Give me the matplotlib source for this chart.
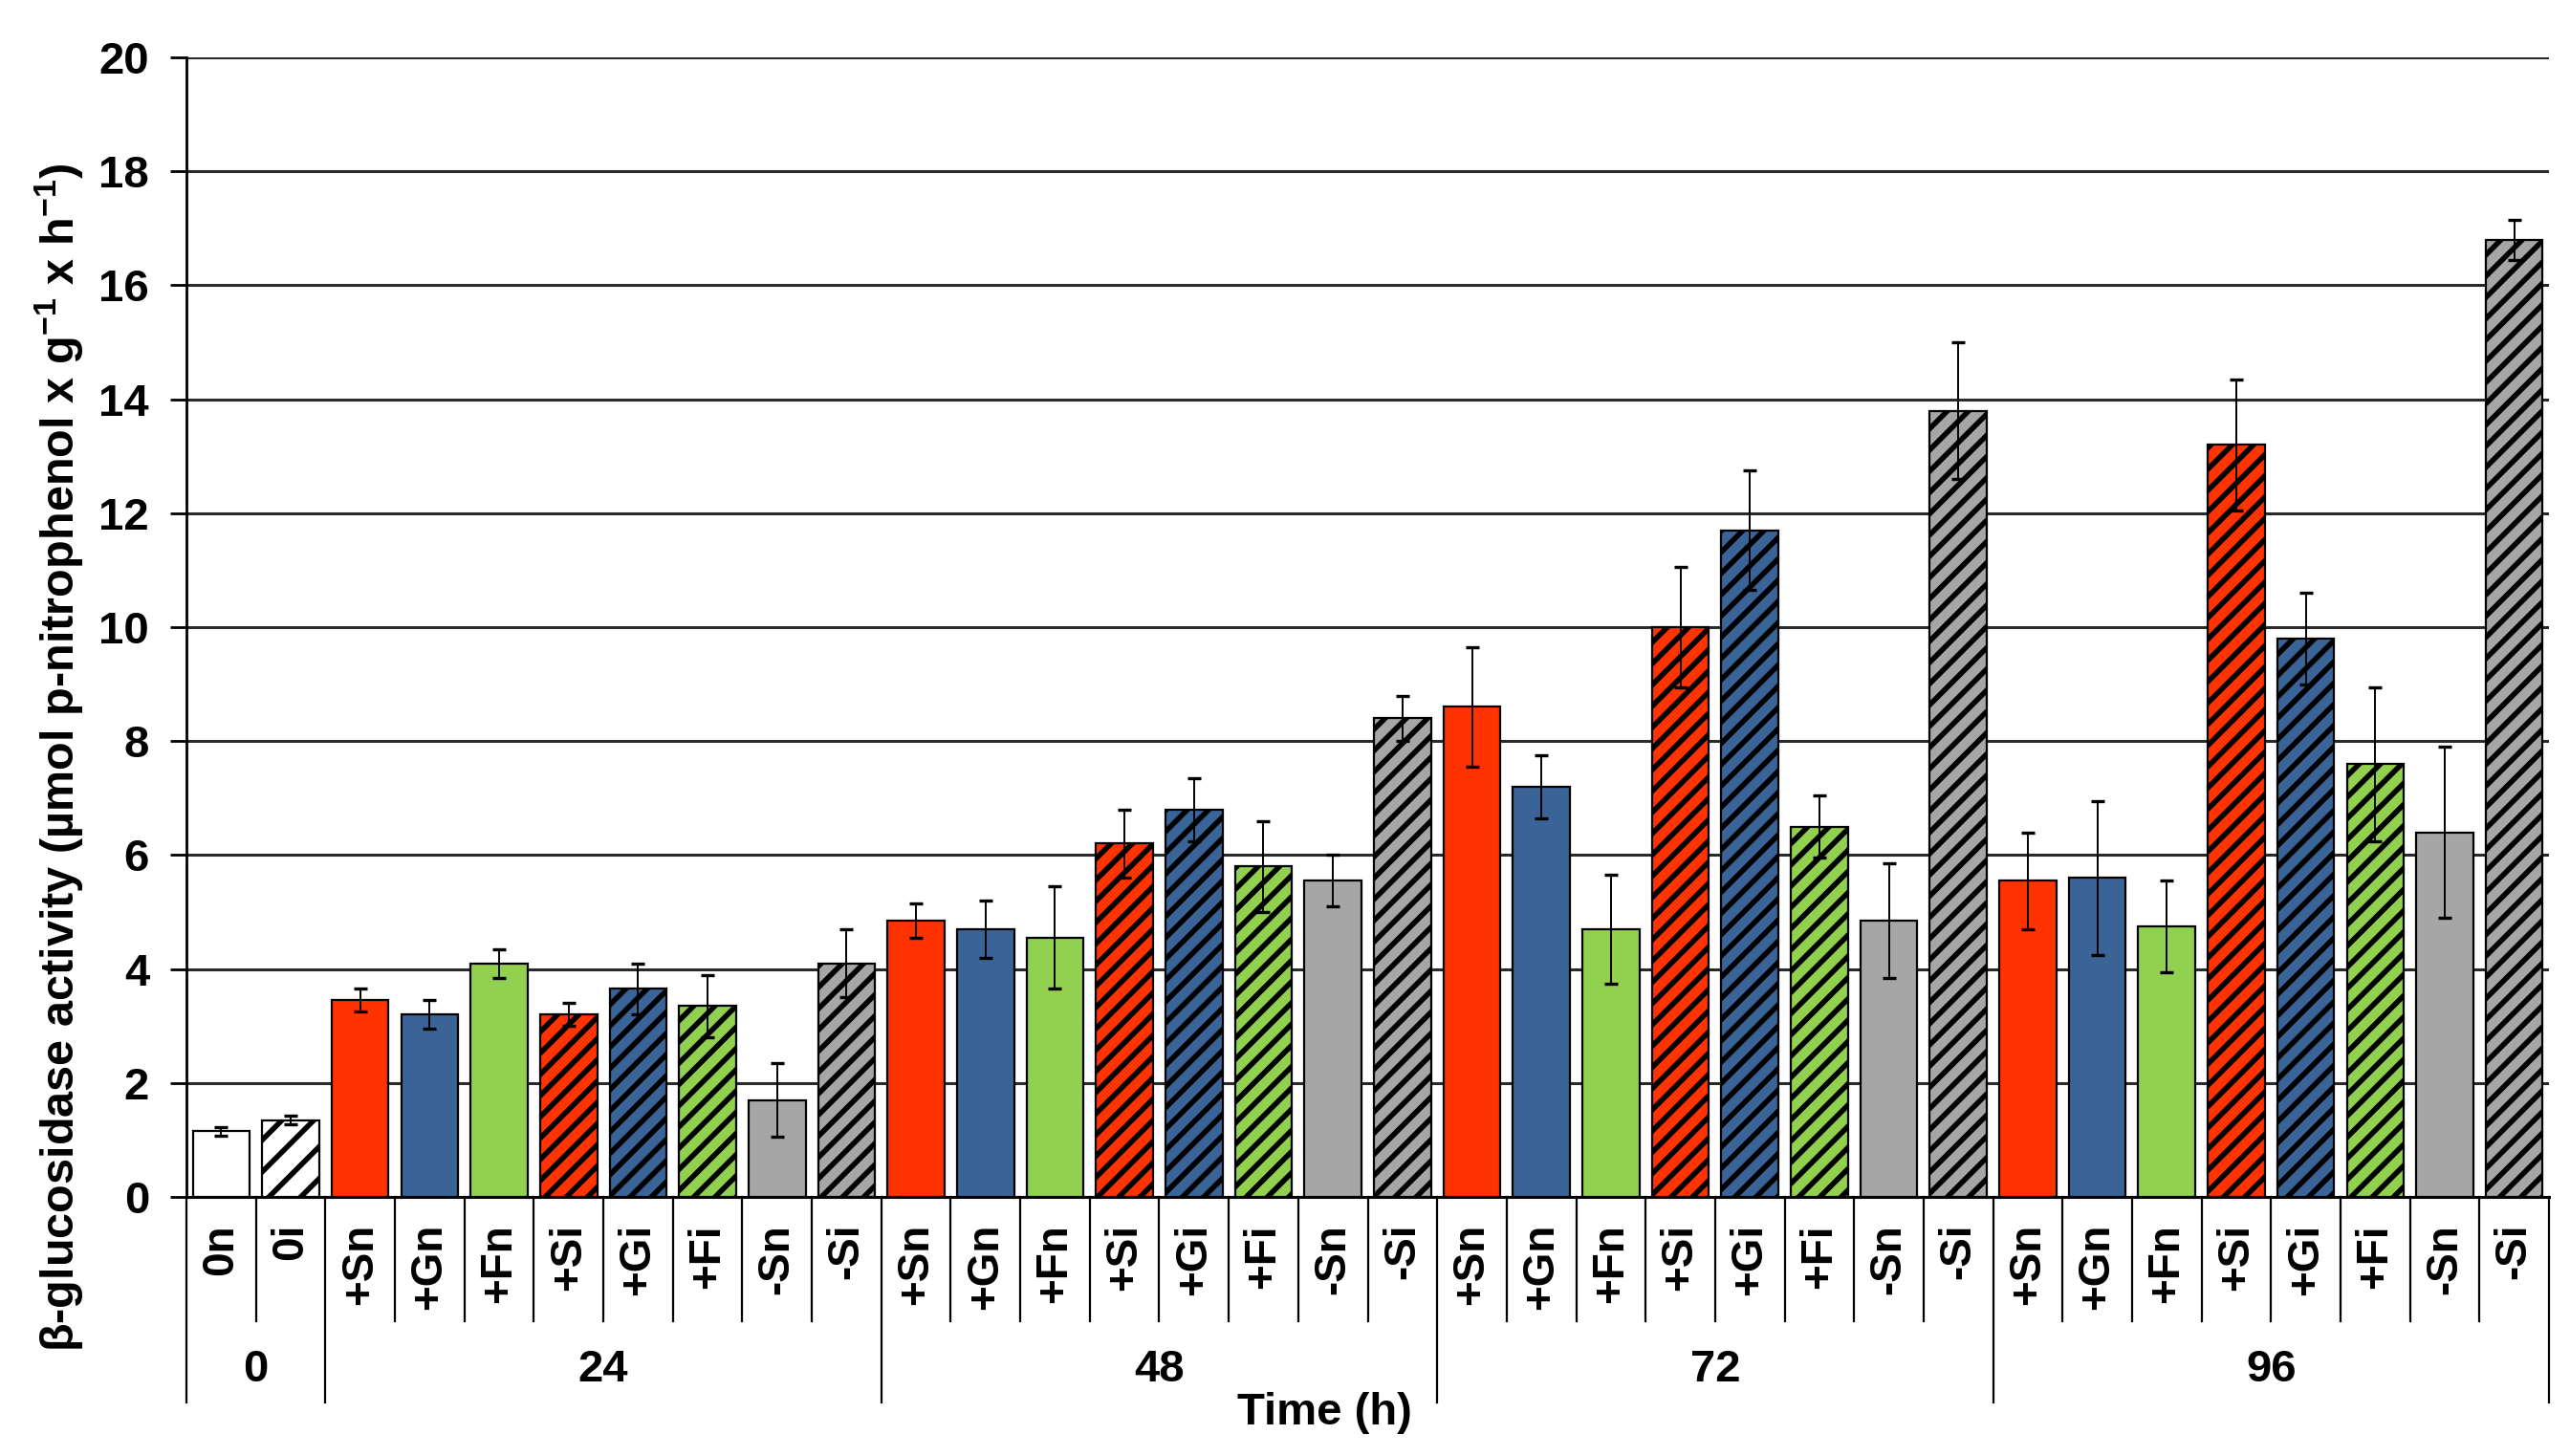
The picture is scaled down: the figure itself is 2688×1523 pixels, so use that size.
import matplotlib
matplotlib.use("Agg")
import matplotlib.pyplot as plt
import matplotlib.transforms as mtransforms
import numpy as np

# ---------------- data ----------------
times = ["0", "24", "48", "72", "96"]
group_sizes = [2, 8, 8, 8, 8]
categories = (["0n", "0i"]
              + ["+Sn", "+Gn", "+Fn", "+Si", "+Gi", "+Fi", "-Sn", "-Si"] * 4)
values = [1.15, 1.35,
          3.45, 3.2, 4.1, 3.2, 3.65, 3.35, 1.7, 4.1,
          4.85, 4.7, 4.55, 6.2, 6.8, 5.8, 5.55, 8.4,
          8.6, 7.2, 4.7, 10.0, 11.7, 6.5, 4.85, 13.8,
          5.55, 5.6, 4.75, 13.2, 9.8, 7.6, 6.4, 16.8]
errors = [0.07, 0.08,
          0.2, 0.25, 0.25, 0.2, 0.45, 0.55, 0.65, 0.6,
          0.3, 0.5, 0.9, 0.6, 0.55, 0.8, 0.45, 0.4,
          1.05, 0.55, 0.95, 1.05, 1.05, 0.55, 1.0, 1.2,
          0.85, 1.35, 0.8, 1.15, 0.8, 1.35, 1.5, 0.35]
yticks = [0, 2, 4, 6, 8, 10, 12, 14, 16, 18, 20]

treatment_colors = {"S": "#FF3300", "G": "#3A6497", "F": "#92D050", "-S": "#A6A6A6", "0": "#FFFFFF"}

def style_for(cat):
    hatched = cat.endswith("i")
    if cat.startswith("0"):
        col = treatment_colors["0"]
    elif cat.startswith("-"):
        col = treatment_colors["-S"]
    else:
        col = treatment_colors[cat[1]]
    return col, hatched

# ---------------- figure ----------------
DPI = 200
fig = plt.figure(figsize=(2688 / DPI, 1523 / DPI), dpi=DPI)
plt.rcParams['font.family'] = ['Liberation Sans', 'DejaVu Sans']
plt.rcParams['mathtext.fontset'] = 'custom'
plt.rcParams['mathtext.rm'] = 'Liberation Sans:bold'
plt.rcParams['mathtext.bf'] = 'Liberation Sans:bold'
plt.rcParams['mathtext.it'] = 'Liberation Sans:bold'
plt.rcParams['hatch.linewidth'] = 2.0
plt.rcParams['hatch.color'] = 'black'

ax = fig.add_axes([195 / 2688, 1 - 1252 / 1523, (2666 - 195) / 2688, (1252 - 60) / 1523])

x = np.arange(len(categories))
for xi, cat, v, e in zip(x, categories, values, errors):
    col, hatched = style_for(cat)
    hatch = None
    if hatched:
        hatch = "//" if cat == "0i" else "///"
    ax.bar(xi, v, width=0.82, color=col, edgecolor="black", linewidth=0.8,
           hatch=hatch, zorder=3)
ax.errorbar(x, values, yerr=errors, fmt="none", ecolor="black",
            elinewidth=0.7, capsize=2.5, capthick=1.2, zorder=4)

ax.set_xlim(-0.5, len(categories) - 0.5)
ax.set_ylim(0, 20)
ax.set_yticks(yticks)
ax.set_yticklabels([str(t) for t in yticks], fontsize=17, fontweight="bold")
ax.tick_params(axis="y", direction="out", length=6, width=1.0, pad=8)
ax.set_xticks([])
ax.grid(axis="y", color="#2a2a2a", linewidth=1.1, zorder=0)
ax.set_axisbelow(True)
for s in ["top", "right"]:
    ax.spines[s].set_visible(False)
ax.spines["left"].set_linewidth(1.0)
ax.spines["bottom"].set_linewidth(1.1)

# ---------------- category table below axis ----------------
trans = mtransforms.blended_transform_factory(ax.transData, ax.transAxes)
ax_h = 1252 - 60
def yfrac(py):
    return (1252 - py) / ax_h

y_cat_end = yfrac(1382)
y_grp_end = yfrac(1467)
y_label_top = yfrac(1280)
y_grp_label = yfrac(1433)

boundaries = np.cumsum([0] + group_sizes) - 0.5
for b in np.arange(-0.5, len(categories), 1.0):
    is_group = np.any(np.isclose(boundaries, b))
    yend = y_grp_end if is_group else y_cat_end
    ax.plot([b, b], [0, yend], transform=trans, color="black", linewidth=0.8,
            clip_on=False, zorder=5)

for xi, cat in zip(x, categories):
    ax.text(xi, y_label_top, cat, transform=trans, rotation=90, ha="center",
            va="top", fontsize=16.5, fontweight="bold")

for t, lo, hi in zip(times, boundaries[:-1], boundaries[1:]):
    ax.text((lo + hi) / 2, y_grp_label, t, transform=trans, ha="center",
            va="center", fontsize=17, fontweight="bold")

fig.text(1385 / 2688, 1 - 1478 / 1523, "Time (h)", ha="center", va="center",
         fontsize=17, fontweight="bold")

fig.text(62 / 2688, 1 - 792 / 1523,
         r"β-glucosidase activity (µmol p-nitrophenol x g$^{-1}$ x h$^{-1}$)",
         rotation=90, ha="center", va="center", fontsize=17.5, fontweight="bold")

fig.savefig("out.png", dpi=DPI, facecolor="white")
